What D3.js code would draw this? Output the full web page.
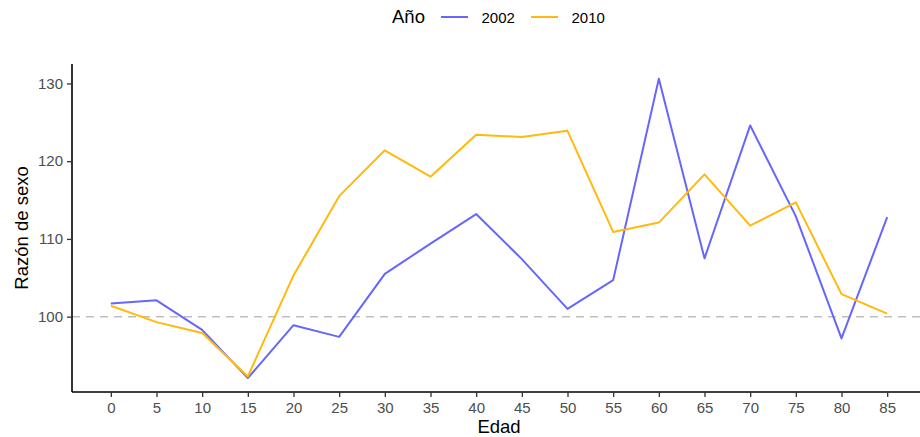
<!DOCTYPE html>
<html><head><meta charset="utf-8">
<script src="https://cdn.jsdelivr.net/npm/d3@7/dist/d3.min.js"></script>
<style>body{margin:0;background:#fff;} text{font-family:"Liberation Sans",Arial,sans-serif;}</style>
</head><body>
<svg id="c" width="920" height="437"></svg>
<script>
const edades = [0,5,10,15,20,25,30,35,40,45,50,55,60,65,70,75,80,85];
const series = ["2002","2010"];
const razon2002 = [101.7,102.1,98.3,92.1,98.9,97.4,105.5,109.4,113.2,107.4,101.0,104.7,130.6,107.5,124.6,112.9,97.2,112.8];
const razon2010 = [101.4,99.3,97.9,92.3,105.3,115.5,121.4,118.0,123.4,123.1,123.9,110.9,112.1,118.3,111.7,114.7,102.9,100.4];
const yTicks = [100,110,120,130];
const colores = ["#6666FF","#FFB90F"];

const svg = d3.select("#c");
const x = d3.scaleLinear().domain([-4.25, 89.25]).range([72, 926]);
const y = d3.scaleLinear().domain([90.31, 132.5]).range([392, 64]);

// reference line
svg.append("line").attr("x1",72).attr("x2",920).attr("y1",y(100)).attr("y2",y(100))
  .attr("stroke","#BEBEBE").attr("stroke-width",1.5).attr("stroke-dasharray","8,6");

const data = [razon2002, razon2010];
const line = d3.line().x((d,i)=>x(edades[i])).y(d=>y(d));
data.forEach((s,k)=>{
  svg.append("path").datum(s).attr("d",line).attr("fill","none")
    .attr("stroke",colores[k]).attr("stroke-width",2).attr("stroke-linejoin","round");
});

// axes
const xa = svg.append("g").attr("transform","translate(0,392)")
  .call(d3.axisBottom(x).tickValues(edades).tickSize(5).tickPadding(5));
const ya = svg.append("g").attr("transform","translate(72,0)")
  .call(d3.axisLeft(y).tickValues(yTicks).tickSize(5).tickPadding(4));
[xa,ya].forEach(g=>{
  g.select(".domain").attr("stroke","#000").attr("stroke-width",1.6);
  g.selectAll(".tick line").attr("stroke","#333").attr("stroke-width",1.3);
  g.selectAll(".tick text").attr("fill","#4D4D4D").style("font-size","15px").style("font-family","Liberation Sans, Arial, sans-serif");
});
xa.select(".domain").attr("d","M72,0H920");
ya.select(".domain").attr("d","M0,64V392");

svg.append("text").attr("x",(72+926)/2).attr("y",432.5).attr("text-anchor","middle")
  .style("font-size","18.5px").text("Edad");
svg.append("text").attr("transform","translate(27.5,228) rotate(-90)").attr("text-anchor","middle")
  .style("font-size","18.5px").text("Razón de sexo");

// legend
const lg = svg.append("g");
lg.append("text").attr("x",392).attr("y",23).style("font-size","18.5px").text("Año");
const lx = [441,531];
series.forEach((s,k)=>{
  lg.append("line").attr("x1",lx[k]).attr("x2",lx[k]+27).attr("y1",17).attr("y2",17)
    .attr("stroke",colores[k]).attr("stroke-width",2);
  lg.append("text").attr("x",lx[k]+40.5).attr("y",22.5).style("font-size","15px").text(s);
});
</script>
</body></html>
